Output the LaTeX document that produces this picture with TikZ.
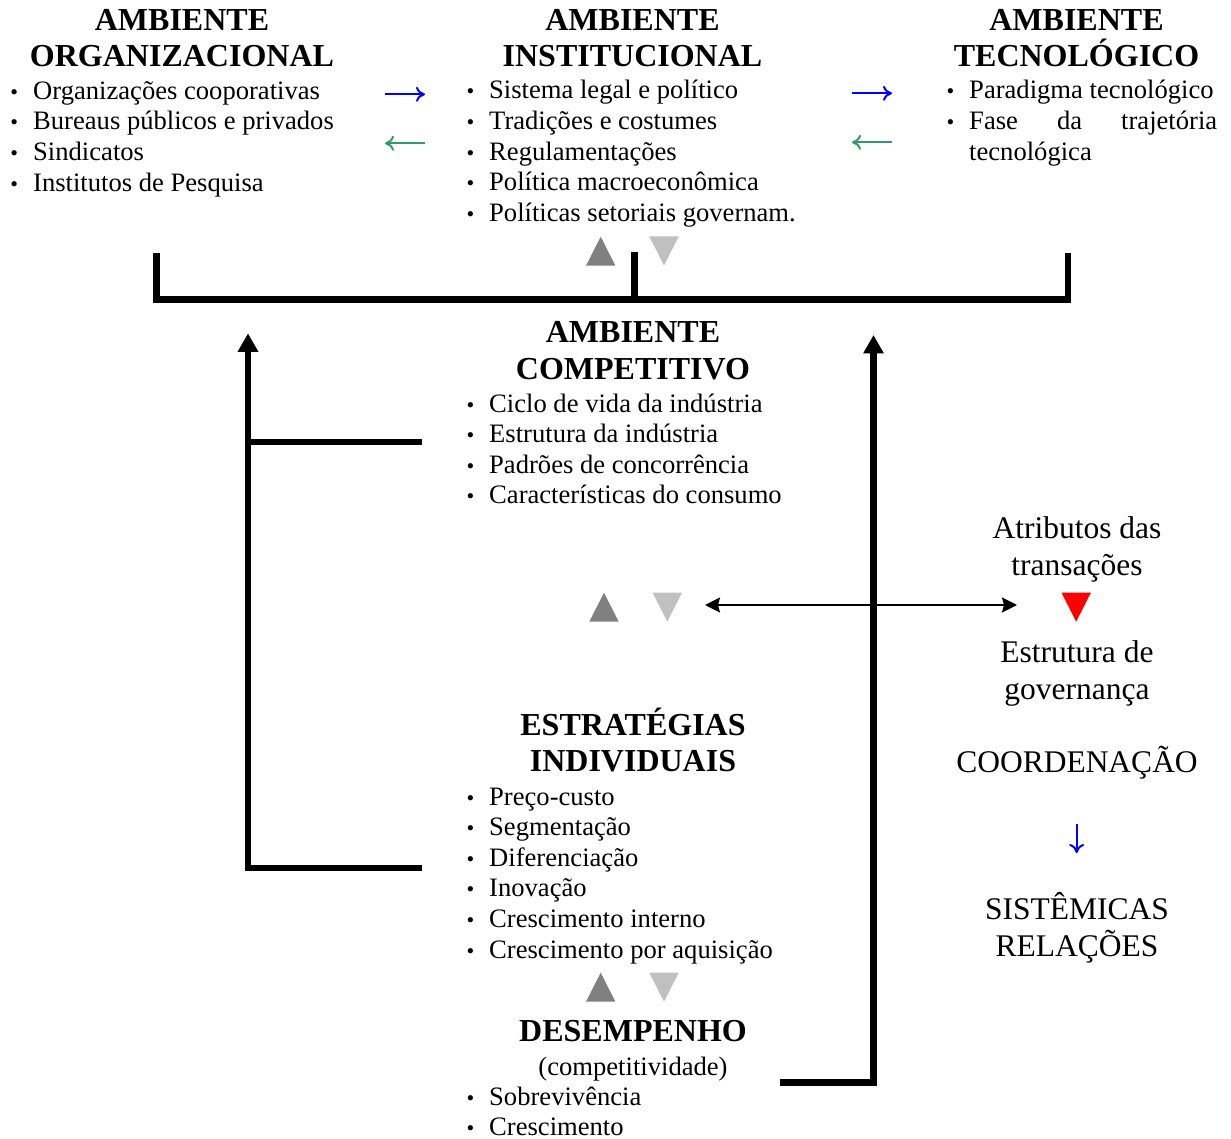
\documentclass[tikz,border=0pt]{standalone}
\usepackage{fontspec}
\setmainfont{Liberation Serif}
\usetikzlibrary{arrows.meta}
\definecolor{tridark}{RGB}{128,128,128}
\definecolor{trilight}{RGB}{192,192,192}
\definecolor{arrblue}{RGB}{0,0,255}
\definecolor{arrgreen}{RGB}{51,153,102}
\definecolor{trired}{RGB}{255,0,0}
\newcommand\bitem[1]{\makebox[0pt][r]{\fontsize{22}{22}\selectfont •\hspace{15pt}}#1}
\newcommand\uptri[3]{\fill[#3] (#1-14.7,#2+14.5) -- (#1+14.7,#2+14.5) -- (#1,#2-14.5) -- cycle;}
\newcommand\dntri[3]{\fill[#3] (#1-14.7,#2-14.5) -- (#1+14.7,#2-14.5) -- (#1,#2+14.5) -- cycle;}
\begin{document}
\begin{tikzpicture}[x=1pt,y=-1pt,
  head/.style={font=\bfseries\fontsize{32}{36}\selectfont, anchor=base, inner sep=0pt},
  body/.style={font=\fontsize{26.6}{30}\selectfont, anchor=base west, inner sep=0pt},
  bodyc/.style={font=\fontsize{26.6}{30}\selectfont, anchor=base, inner sep=0pt},
  side/.style={font=\fontsize{31.5}{36}\selectfont, anchor=base, inner sep=0pt},
  frame/.style={line width=6.5pt, line join=miter, line cap=butt},
  bigarrow/.style={frame, -{Triangle[width=19.5pt,length=18.5pt]}},
  smallarrow/.style={line width=2pt, -{To[length=9pt,width=15pt]}},
  dblarrow/.style={line width=2pt, {Stealth[length=15pt,width=15pt,inset=2pt]}-{Stealth[length=15pt,width=15pt,inset=2pt]}}
]
\useasboundingbox (0,0) rectangle (1231,1139);

% ---- Ambiente organizacional
\node[head] (h1a) at (182,30.5) {AMBIENTE};
\node[head] (h1b) at (182,66.5) {ORGANIZACIONAL};
\node[body] (o1) at (33,99.3) {\bitem{Organizações cooporativas}};
\node[body] (o2) at (33,130) {\bitem{Bureaus públicos e privados}};
\node[body] (o3) at (33,160.6) {\bitem{Sindicatos}};
\node[body] (o4) at (33,191.3) {\bitem{Institutos de Pesquisa}};

% ---- Ambiente institucional
\node[head] (h2a) at (632.5,30.5) {AMBIENTE};
\node[head] (h2b) at (632.5,66.5) {INSTITUCIONAL};
\node[body] (i1) at (489,99) {\bitem{Sistema legal e político}};
\node[body] (i2) at (489,129.6) {\bitem{Tradições e costumes}};
\node[body] (i3) at (489,160.2) {\bitem{Regulamentações}};
\node[body] (i4) at (489,190.8) {\bitem{Política macroeconômica}};
\node[body] (i5) at (489,221.4) {\bitem{Políticas setoriais governam.}};

% ---- Ambiente tecnologico
\node[head] (h3a) at (1076.5,30.5) {AMBIENTE};
\node[head] (h3b) at (1076.5,66.5) {TECNOLÓGICO};
\node[body] (t1) at (969,99) {\bitem{Paradigma tecnológico}};
\node[body] (t2) at (969,129.6) {\bitem{\makebox[248pt][s]{Fase da trajetória}}};
\node[body] (t3) at (969,160.2) {tecnológica};

% ---- small arrows
\coordinate (ba1s) at (385,94.3); \coordinate (ba1e) at (425,94.3);
\coordinate (ga1s) at (425,143.3); \coordinate (ga1e) at (385,143.3);
\coordinate (ba2s) at (852,93.3); \coordinate (ba2e) at (892,93.3);
\coordinate (ga2s) at (892,142.3); \coordinate (ga2e) at (852,142.3);
\draw[smallarrow, arrblue] (ba1s) -- (ba1e);
\draw[smallarrow, arrgreen] (ga1s) -- (ga1e);
\draw[smallarrow, arrblue] (ba2s) -- (ba2e);
\draw[smallarrow, arrgreen] (ga2s) -- (ga2e);

% ---- top triangles and bracket
\uptri{600.7}{251.2}{tridark}
\dntri{664}{251}{trilight}
\coordinate (bl) at (156.7,253.3);
\coordinate (blc) at (156.7,299.7);
\coordinate (brc) at (1068,299.7);
\coordinate (br) at (1068,253.3);
\coordinate (bm) at (634.7,252.3);
\coordinate (bmc) at (634.7,299.7);
\draw[frame] (bl) -- (blc) -- (brc) -- (br);
\draw[frame] (bm) -- (bmc);

% ---- Ambiente competitivo
\node[head] (h4a) at (633,342.5) {AMBIENTE};
\node[head] (h4b) at (633,379.5) {COMPETITIVO};
\node[body] (c1) at (489,412) {\bitem{Ciclo de vida da indústria}};
\node[body] (c2) at (489,442.6) {\bitem{Estrutura da indústria}};
\node[body] (c3) at (489,473.2) {\bitem{Padrões de concorrência}};
\node[body] (c4) at (489,503.8) {\bitem{Características do consumo}};

% ---- middle triangles and double arrow
\uptri{604}{607.2}{tridark}
\dntri{667.3}{607.2}{trilight}
\dntri{1076.2}{607.2}{trired}
\coordinate (dl) at (705,605); \coordinate (dr) at (1017,605);
\draw[dblarrow] (dl) -- (dr);

% ---- right column
\node[side] (r1) at (1077,538) {Atributos das};
\node[side] (r2) at (1077,575) {transações};
\node[side] (r3) at (1077,662.5) {Estrutura de};
\node[side] (r4) at (1077,699) {governança};
\node[side] (r5) at (1077,772.5) {COORDENAÇÃO};
\node[side] (r6) at (1077,919) {SISTÊMICAS};
\node[side] (r7) at (1077,956) {RELAÇÕES};
\coordinate (bdt) at (1076.7,824); \coordinate (bdb) at (1076.7,853);
\draw[smallarrow, arrblue] (bdt) -- (bdb);

% ---- Estrategias individuais
\node[head] (h5a) at (633,735.5) {ESTRATÉGIAS};
\node[head] (h5b) at (633,771.5) {INDIVIDUAIS};
\node[body] (e1) at (489,805) {\bitem{Preço-custo}};
\node[body] (e2) at (489,835.6) {\bitem{Segmentação}};
\node[body] (e3) at (489,866.2) {\bitem{Diferenciação}};
\node[body] (e4) at (489,896.8) {\bitem{Inovação}};
\node[body] (e5) at (489,927.4) {\bitem{Crescimento interno}};
\node[body] (e6) at (489,958) {\bitem{Crescimento por aquisição}};

\uptri{600.7}{987.2}{tridark}
\dntri{664}{987.2}{trilight}

% ---- Desempenho
\node[head] (h6) at (633,1041.5) {DESEMPENHO};
\node[bodyc] (d0) at (633,1075) {(competitividade)};
\node[body] (d1) at (489,1105) {\bitem{Sobrevivência}};
\node[body] (d2) at (489,1135.6) {\bitem{Crescimento}};

% ---- feedback arrows
\coordinate (la) at (422,868);
\coordinate (lc) at (248,868);
\coordinate (lt) at (248,333.3);
\coordinate (lm) at (248,442);
\coordinate (lme) at (422,442);
\draw[bigarrow] (la) -- (lc) -- (lt);
\draw[frame] (lm) -- (lme);
\coordinate (ra) at (780,1082.7);
\coordinate (rc) at (873.5,1082.7);
\coordinate (rt) at (873.5,335);
\draw[bigarrow] (ra) -- (rc) -- (rt);
\end{tikzpicture}
\end{document}
